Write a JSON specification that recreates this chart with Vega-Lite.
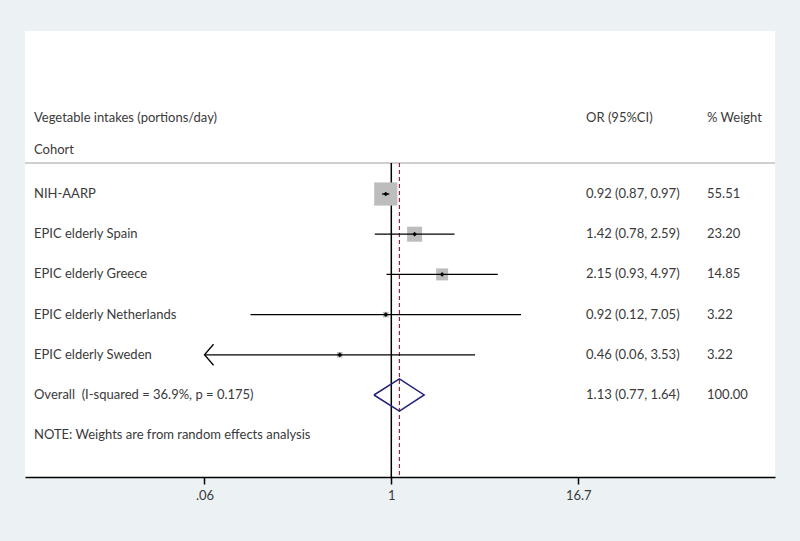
{
  "$schema": "https://vega.github.io/schema/vega-lite/v6.json",
  "width": 750,
  "height": 446,
  "autosize": {"type": "none"},
  "padding": {"left": 25, "top": 31, "right": 25, "bottom": 64},
  "background": "#ecf1f4",
  "view": {"fill": "white", "stroke": null},
  "config": {
    "font": "Lato",
    "text": {"font": "Lato", "fontSize": 13, "color": "#3a3a3a"},
    "axis": {
      "domainColor": "#000000", "domainWidth": 1.5,
      "tickColor": "#000000", "tickWidth": 1.5, "tickSize": 7,
      "labelFont": "Lato", "labelFontSize": 13, "labelColor": "#3a3a3a",
      "labelPadding": 5, "grid": false, "title": null
    }
  },
  "data": {"values": [{}]},
  "datasets": {
    "studies": [
      {"study": "NIH-AARP", "or": 0.92, "lo": 0.87, "hi": 0.97, "weight": 55.51, "ci": "0.92 (0.87, 0.97)", "wt": "55.51", "row": 1},
      {"study": "EPIC elderly Spain", "or": 1.42, "lo": 0.78, "hi": 2.59, "weight": 23.20, "ci": "1.42 (0.78, 2.59)", "wt": "23.20", "row": 2},
      {"study": "EPIC elderly Greece", "or": 2.15, "lo": 0.93, "hi": 4.97, "weight": 14.85, "ci": "2.15 (0.93, 4.97)", "wt": "14.85", "row": 3},
      {"study": "EPIC elderly Netherlands", "or": 0.92, "lo": 0.12, "hi": 7.05, "weight": 3.22, "ci": "0.92 (0.12, 7.05)", "wt": "3.22", "row": 4},
      {"study": "EPIC elderly Sweden", "or": 0.46, "lo": 0.06, "hi": 3.53, "weight": 3.22, "ci": "0.46 (0.06, 3.53)", "wt": "3.22", "row": 5},
      {"study": "Overall \u00a0(I-squared = 36.9%, p = 0.175)", "or": 1.13, "lo": 0.77, "hi": 1.64, "weight": 100.00, "ci": "1.13 (0.77, 1.64)", "wt": "100.00", "row": 6}
    ],
    "diamond": [
      {"x": 0.77, "y": 6, "o": 1},
      {"x": 1.13, "y": 5.6, "o": 2},
      {"x": 1.64, "y": 6, "o": 3},
      {"x": 1.13, "y": 6.4, "o": 4},
      {"x": 0.77, "y": 6, "o": 5}
    ]
  },
  "layer": [
    {
      "mark": {"type": "rule", "color": "#a0a0a0", "strokeWidth": 1},
      "encoding": {
        "y": {"datum": 0.229, "type": "quantitative", "scale": {"domain": [-3.055, 8.04], "reverse": true, "nice": false, "zero": false}, "axis": null}
      }
    },
    {
      "mark": {"type": "rule", "color": "#000000", "strokeWidth": 1.5},
      "encoding": {
        "x": {"datum": 1, "type": "quantitative", "scale": {"type": "log", "domain": [0.00402, 323.2], "nice": false},
          "axis": {"values": [0.06, 1, 16.7], "labelExpr": "datum.value == 1 ? '1' : (datum.value < 1 ? '.06' : '16.7')"}},
        "y": {"datum": 0.229, "type": "quantitative"},
        "y2": {"datum": 8.04}
      }
    },
    {
      "mark": {"type": "rule", "color": "#8c2a3c", "strokeWidth": 1.2, "strokeDash": [4, 3]},
      "encoding": {
        "x": {"datum": 1.13, "type": "quantitative"},
        "y": {"datum": 0.229, "type": "quantitative"},
        "y2": {"datum": 8.04}
      }
    },
    {
      "data": {"name": "studies"},
      "transform": [{"filter": "datum.row <= 5"}],
      "mark": {"type": "point", "shape": "square", "filled": true, "color": "#bdbdbd", "opacity": 1},
      "encoding": {
        "x": {"field": "or", "type": "quantitative"},
        "y": {"field": "row", "type": "quantitative"},
        "size": {"field": "weight", "type": "quantitative", "scale": {"type": "linear", "domain": [0, 100], "range": [0, 970], "zero": true}, "legend": null}
      }
    },
    {
      "data": {"name": "studies"},
      "transform": [{"filter": "datum.row <= 5"}],
      "mark": {"type": "rule", "color": "#000000", "strokeWidth": 1.3},
      "encoding": {
        "x": {"field": "lo", "type": "quantitative"},
        "x2": {"field": "hi"},
        "y": {"field": "row", "type": "quantitative"}
      }
    },
    {
      "data": {"name": "studies"},
      "transform": [{"filter": "datum.row <= 5 && datum.lo <= 0.06"}],
      "mark": {"type": "point", "shape": "M0.86,-1L0,0L0.86,1", "filled": false, "color": "#000000", "strokeWidth": 1.3, "size": 441, "opacity": 1},
      "encoding": {
        "x": {"field": "lo", "type": "quantitative"},
        "y": {"field": "row", "type": "quantitative"}
      }
    },
    {
      "data": {"name": "studies"},
      "transform": [{"filter": "datum.row <= 5"}],
      "mark": {"type": "point", "shape": "diamond", "filled": true, "color": "#000000", "size": 22, "opacity": 1},
      "encoding": {
        "x": {"field": "or", "type": "quantitative"},
        "y": {"field": "row", "type": "quantitative"}
      }
    },
    {
      "data": {"name": "diamond"},
      "mark": {"type": "line", "color": "#23237a", "strokeWidth": 1.5},
      "encoding": {
        "x": {"field": "x", "type": "quantitative"},
        "y": {"field": "y", "type": "quantitative"},
        "order": {"field": "o", "type": "quantitative"}
      }
    },
    {
      "data": {"name": "studies"},
      "mark": {"type": "text", "align": "left", "baseline": "middle"},
      "encoding": {
        "x": {"datum": 0.004603, "type": "quantitative"},
        "y": {"field": "row", "type": "quantitative"},
        "text": {"field": "study"}
      }
    },
    {
      "data": {"name": "studies"},
      "mark": {"type": "text", "align": "left", "baseline": "middle"},
      "encoding": {
        "x": {"datum": 18.77, "type": "quantitative"},
        "y": {"field": "row", "type": "quantitative"},
        "text": {"field": "ci"}
      }
    },
    {
      "data": {"name": "studies"},
      "mark": {"type": "text", "align": "left", "baseline": "middle"},
      "encoding": {
        "x": {"datum": 116.1, "type": "quantitative"},
        "y": {"field": "row", "type": "quantitative"},
        "text": {"field": "wt"}
      }
    },
    {
      "mark": {"type": "text", "align": "left", "baseline": "middle"},
      "encoding": {
        "x": {"datum": 0.004603, "type": "quantitative"},
        "y": {"datum": -0.891, "type": "quantitative"},
        "text": {"value": "Vegetable intakes (portions/day)"}
      }
    },
    {
      "mark": {"type": "text", "align": "left", "baseline": "middle"},
      "encoding": {
        "x": {"datum": 0.004603, "type": "quantitative"},
        "y": {"datum": -0.0945, "type": "quantitative"},
        "text": {"value": "Cohort"}
      }
    },
    {
      "mark": {"type": "text", "align": "left", "baseline": "middle"},
      "encoding": {
        "x": {"datum": 18.77, "type": "quantitative"},
        "y": {"datum": -0.891, "type": "quantitative"},
        "text": {"value": "OR (95%CI)"}
      }
    },
    {
      "mark": {"type": "text", "align": "left", "baseline": "middle"},
      "encoding": {
        "x": {"datum": 116.1, "type": "quantitative"},
        "y": {"datum": -0.891, "type": "quantitative"},
        "text": {"value": "% Weight"}
      }
    },
    {
      "mark": {"type": "text", "align": "left", "baseline": "middle"},
      "encoding": {
        "x": {"datum": 0.004603, "type": "quantitative"},
        "y": {"datum": 7, "type": "quantitative"},
        "text": {"value": "NOTE: Weights are from random effects analysis"}
      }
    }
  ]
}
